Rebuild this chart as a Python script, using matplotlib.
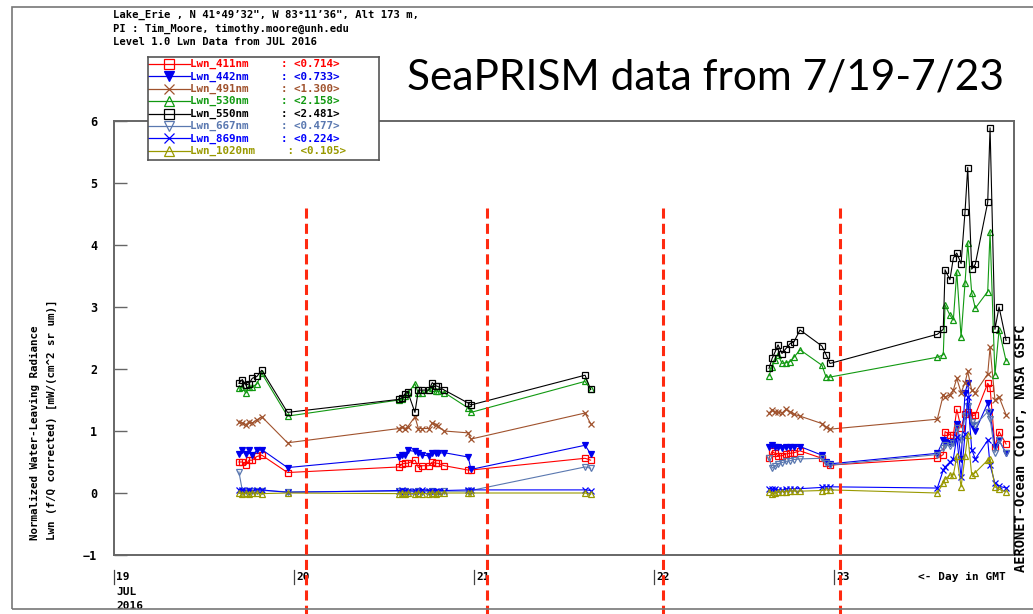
import numpy as np
import matplotlib
matplotlib.use("Agg")
import matplotlib.pyplot as plt
import matplotlib.transforms as mtransforms
from matplotlib.patches import Rectangle

# measurement times, day of July 2016 (GMT)
days = [19.694, 19.713, 19.732, 19.750, 19.768, 19.794, 19.821, 19.964,
        20.583, 20.602, 20.617, 20.632, 20.672, 20.691, 20.713, 20.750, 20.768,
        20.787, 20.798, 20.835, 20.968, 20.983,
        21.617, 21.648,
        22.639, 22.656, 22.672, 22.689, 22.711, 22.733, 22.756, 22.778, 22.811,
        22.933, 22.956, 22.978,
        23.574, 23.607, 23.617, 23.644, 23.663, 23.682, 23.706, 23.728, 23.743,
        23.765, 23.785, 23.854, 23.867, 23.894, 23.917, 23.956]

lwn_411 = [0.50, 0.50, 0.45, 0.53, 0.53, 0.59, 0.61, 0.33,
           0.42, 0.47, 0.48, 0.48, 0.53, 0.41, 0.44, 0.44, 0.50, 0.48, 0.48, 0.44, 0.37, 0.37,
           0.56, 0.53,
           0.56, 0.67, 0.64, 0.60, 0.60, 0.63, 0.64, 0.65, 0.68, 0.56, 0.48, 0.45,
           0.56, 0.62, 0.99, 0.94, 0.93, 1.35, 1.05, 1.28, 1.30, 1.24, 1.26, 1.77, 1.70, 0.75, 0.99, 0.79]
lwn_442 = [0.63, 0.70, 0.63, 0.69, 0.61, 0.69, 0.70, 0.41,
           0.58, 0.61, 0.62, 0.69, 0.67, 0.65, 0.61, 0.60, 0.64, 0.64, 0.64, 0.65, 0.58, 0.38,
           0.77, 0.63,
           0.75, 0.77, 0.75, 0.74, 0.72, 0.75, 0.74, 0.75, 0.75, 0.61, 0.50, 0.47,
           0.64, 0.85, 0.82, 0.80, 0.83, 1.12, 0.55, 1.62, 1.77, 1.10, 1.00, 1.45, 1.30, 0.75, 0.85, 0.64]
lwn_491 = [1.15, 1.13, 1.10, 1.15, 1.13, 1.18, 1.23, 0.81,
           1.04, 1.07, 1.04, 1.07, 1.23, 1.04, 1.04, 1.04, 1.13, 1.10, 1.08, 1.00, 0.97, 0.87,
           1.29, 1.12,
           1.29, 1.34, 1.31, 1.30, 1.29, 1.35, 1.31, 1.27, 1.24, 1.12, 1.06, 1.03,
           1.19, 1.58, 1.55, 1.58, 1.66, 1.85, 1.62, 1.78, 1.96, 1.66, 1.62, 1.92, 2.35, 1.50, 1.55, 1.26]
lwn_530 = [1.69, 1.71, 1.61, 1.71, 1.71, 1.76, 1.93, 1.24,
           1.50, 1.51, 1.57, 1.61, 1.76, 1.61, 1.61, 1.66, 1.70, 1.65, 1.64, 1.62, 1.37, 1.30,
           1.80, 1.67,
           1.89, 2.04, 2.15, 2.23, 2.09, 2.10, 2.12, 2.19, 2.31, 2.06, 1.87, 1.87,
           2.19, 2.23, 3.03, 2.87, 2.79, 3.57, 2.51, 3.39, 4.03, 3.23, 2.98, 3.25, 4.21, 1.90, 2.63, 2.13]
lwn_550 = [1.77, 1.83, 1.74, 1.76, 1.85, 1.88, 1.98, 1.30,
           1.51, 1.54, 1.60, 1.63, 1.30, 1.66, 1.66, 1.66, 1.78, 1.73, 1.72, 1.66, 1.45, 1.42,
           1.90, 1.67,
           2.01, 2.17, 2.27, 2.39, 2.25, 2.33, 2.41, 2.44, 2.63, 2.37, 2.23, 2.09,
           2.56, 2.64, 3.60, 3.44, 3.79, 3.87, 3.70, 4.54, 5.25, 3.61, 3.69, 4.69, 5.89, 2.64, 3.00, 2.46]
lwn_667 = [0.34, 0.04, 0.03, 0.04, 0.03, 0.04, 0.04, 0.02,
           0.03, 0.02, 0.03, 0.02, 0.02, 0.03, 0.02, 0.02, 0.03, 0.02, 0.02, 0.03, 0.03, 0.04,
           0.42, 0.40,
           0.57, 0.40, 0.43, 0.47, 0.49, 0.51, 0.52, 0.54, 0.55, 0.56, 0.48, 0.45,
           0.62, 0.72, 0.78, 0.76, 0.80, 1.05, 0.85, 1.25, 1.40, 1.15, 1.10, 1.31, 1.20, 0.65, 0.85, 0.64]
lwn_869 = [0.05, 0.05, 0.04, 0.05, 0.04, 0.05, 0.05, 0.01,
           0.04, 0.05, 0.04, 0.04, 0.03, 0.04, 0.05, 0.04, 0.03, 0.04, 0.04, 0.04, 0.05, 0.05,
           0.05, 0.04,
           0.07, 0.06, 0.06, 0.05, 0.05, 0.06, 0.07, 0.07, 0.07, 0.09, 0.10, 0.10,
           0.08, 0.37, 0.42, 0.50, 0.55, 0.90, 0.26, 0.95, 1.55, 0.70, 0.55, 0.85, 0.45, 0.16, 0.11, 0.08]
lwn_1020 = [0.00, -0.01, 0.00, -0.01, 0.00, 0.00, -0.01, 0.00,
            -0.01, 0.00, -0.01, 0.00, -0.01, 0.00, -0.01, -0.01, 0.00, -0.01, 0.00, 0.00, 0.00, 0.00,
            0.00, -0.02,
            0.02, -0.01, 0.00, 0.01, 0.02, 0.02, 0.03, 0.03, 0.03, 0.04, 0.05, 0.05,
            0.00, 0.16, 0.22, 0.29, 0.29, 0.59, 0.10, 0.59, 0.94, 0.29, 0.33, 0.53, 0.55, 0.10, 0.06, 0.02]

channels = ["Lwn_411nm", "Lwn_442nm", "Lwn_491nm", "Lwn_530nm",
            "Lwn_550nm", "Lwn_667nm", "Lwn_869nm", "Lwn_1020nm"]
averages = ["0.714", "0.733", "1.300", "2.158", "2.481", "0.477", "0.224", "0.105"]
series = [lwn_411, lwn_442, lwn_491, lwn_530, lwn_550, lwn_667, lwn_869, lwn_1020]
colors = ["#ff0000", "#0000ee", "#a0522d", "#119911", "#000000", "#5a78b0", "#0000ff", "#999900"]
markers = ["s", "v", "x", "^", "s", "v", "x", "^"]
filled = [False, True, False, False, False, False, False, False]

# local midnight markers
midnights = [20.065, 21.07, 22.05, 23.035]
day_ticks = [19, 20, 21, 22, 23]

mono = dict(family="DejaVu Sans Mono", weight="bold")

W, H = 1033, 614
fig = plt.figure(figsize=(W / 100, H / 100), dpi=100)

ax = fig.add_axes([114 / W, 1 - 555 / H, 900 / W, 434 / H])
ax.set_xlim(19, 24)
ax.set_ylim(-1, 6)

# break the lines where there is no data for most of a day
t = np.array(days)
gaps = np.where(np.diff(t) > 0.8)[0] + 1
tt = np.insert(t, gaps, np.nan)
for vals, c, m, f in zip(series, colors, markers, filled):
    yy = np.insert(np.array(vals, float), gaps, np.nan)
    ax.plot(tt, yy, color=c, lw=0.8, marker=m, ms=3.8, mew=0.9,
            mfc=c if f else "none", mec=c)

for sp in ax.spines.values():
    sp.set_color("#666666")
    sp.set_linewidth(1.4)

ax.set_yticks(range(-1, 7))
ax.tick_params(axis="y", direction="in", length=9, width=1, color="#666666",
               labelsize=8.5, pad=12)
for lb in ax.get_yticklabels():
    lb.set_fontfamily("DejaVu Sans Mono")
    lb.set_fontweight("bold")
ax.set_xticks([])

# day labels under the axis
xtrans = mtransforms.blended_transform_factory(ax.transData, fig.transFigure)
xtext = mtransforms.offset_copy(xtrans, fig=fig, x=2, units="dots")
for d in day_ticks:
    ax.plot([d, d], [1 - 570 / H, 1 - 584 / H], transform=xtrans, color="#444444",
            lw=0.9, clip_on=False)
    ax.text(d, 1 - 577 / H, str(d), transform=xtext, fontsize=8, va="center", **mono)
ax.text(day_ticks[0], 1 - 592 / H, "JUL", transform=xtext, fontsize=8, va="center", **mono)
ax.text(day_ticks[0], 1 - 606 / H, "2016", transform=xtext, fontsize=8, va="center", **mono)
fig.text(918 / W, 1 - 577 / H, "<- Day in GMT", fontsize=8, va="center", **mono)

# dashed day boundaries running below the frame
for m in midnights:
    ax.plot([m, m], [1 - 208 / H, 0], transform=xtrans, color="#ff2a10", lw=2.2,
            ls=(0, (3.3, 1.7)), clip_on=False, zorder=5)

# header
header = ["Lake_Erie , N 41\u00b049\u201932\", W 83\u00b011\u201936\", Alt 173 m,",
          "PI : Tim_Moore, timothy.moore@unh.edu",
          "Level 1.0 Lwn Data from JUL 2016"]
for i, line in enumerate(header):
    fig.text(113 / W, 1 - (15 + 13.5 * i) / H, line, fontsize=7.6, va="center", **mono)

fig.text(35 / W, 1 - 540 / H, "Normalized Water-Leaving Radiance", rotation=90,
         ha="center", va="bottom", fontsize=7.8, **mono)
fig.text(52 / W, 1 - 540 / H, "Lwn (f/Q corrected) [mW/(cm^2 sr um)]", rotation=90,
         ha="center", va="bottom", fontsize=7.8, **mono)
fig.text(1021 / W, 1 - 572 / H, "AERONET-Ocean Color, NASA GSFC", rotation=90,
         ha="center", va="bottom", fontsize=9.8, **mono)

fig.text(407 / W, 1 - 78 / H, "SeaPRISM data from 7/19-7/23", fontsize=30.5,
         family="Lato", va="center")

# legend box
lax = fig.add_axes([148 / W, 1 - 160 / H, 231 / W, 103 / H])
lax.set_xlim(0, 231)
lax.set_ylim(103, 0)
lax.set_xticks([])
lax.set_yticks([])
lax.set_facecolor("white")
for sp in lax.spines.values():
    sp.set_color("#555555")
    sp.set_linewidth(1.2)
for i, (name, avg, c, m, f) in enumerate(zip(channels, averages, colors, markers, filled)):
    row = 7 + 12.4 * i
    lax.plot([0, 42], [row, row], color=c, lw=0.9)
    lax.plot([21], [row], marker=m, ms=7, mew=0.9, mec=c, mfc=c if f else "none")
    lax.text(42, row, f"{name}     : <{avg}>", color=c, fontsize=7.8, va="center", **mono)

# outer frame
fig.add_artist(Rectangle((12 / W, 1 - 609 / H), 1.2, 602 / H, transform=fig.transFigure,
                         fill=False, ec="#777777", lw=1.2))

fig.savefig("out.png", dpi=100)
